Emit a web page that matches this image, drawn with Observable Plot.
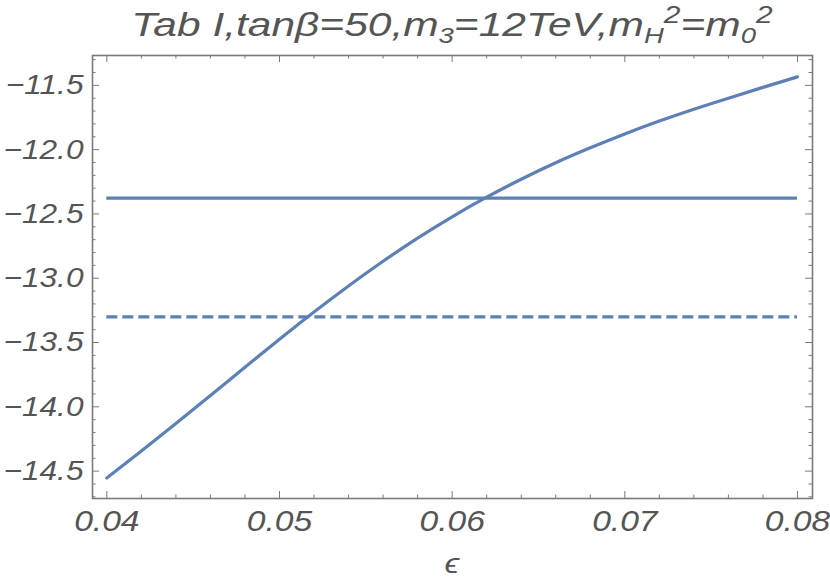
<!DOCTYPE html>
<html><head><meta charset="utf-8">
<script src="https://cdn.jsdelivr.net/npm/d3@7"></script>
<script src="https://cdn.jsdelivr.net/npm/@observablehq/plot@0.6"></script>
<style>body{margin:0;background:#fff}</style>
</head><body><div id="chart"></div>
<script>
// Data
const eps    = [0.040, 0.042, 0.044, 0.046, 0.048, 0.050, 0.052, 0.054, 0.056, 0.058, 0.060, 0.062, 0.064, 0.066, 0.068, 0.070, 0.072, 0.074, 0.076, 0.078, 0.080];
const curveY = [-14.554, -14.344, -14.130, -13.912, -13.692, -13.474, -13.262, -13.060, -12.868, -12.688, -12.522, -12.370, -12.230, -12.102, -11.986, -11.878, -11.778, -11.686, -11.600, -11.516, -11.434];
const solidLevel  = [-12.377];
const dashedLevel = [-13.300];
const epsRange = [0.04, 0.08];

const xMajor = [0.04, 0.05, 0.06, 0.07, 0.08];
const xMinor = [0.042, 0.044, 0.046, 0.048, 0.052, 0.054, 0.056, 0.058, 0.062, 0.064, 0.066, 0.068, 0.072, 0.074, 0.076, 0.078];
const yMajor = [-14.5, -14.0, -13.5, -13.0, -12.5, -12.0, -11.5];
const yMinor = [-14.7, -14.6, -14.4, -14.3, -14.2, -14.1, -13.9, -13.8, -13.7, -13.6, -13.4, -13.3, -13.2, -13.1, -12.9, -12.8, -12.7, -12.6, -12.4, -12.3, -12.2, -12.1, -11.9, -11.8, -11.7, -11.6, -11.4, -11.3];

const titleParts = [["Tab I,tanβ=50,m", "n"], ["3", "sub"], ["=12TeV,m", "n"], ["H", "sub"], ["2", "sup"], ["=m", "n"], ["0", "sub"], ["2", "sup"]];
const xLabel = "ϵ";

const curveData = eps.map((e, i) => ({eps: e, v: curveY[i]}));

const W = 830, H = 581, mL = 92, mR = 18, mT = 55, mB = 83;
const fw = W - mL - mR, fh = H - mT - mB;
const blue = "#5E81B5", gray = "#7a7a7a", textGray = "#555";
const font = "'Liberation Sans', Arial, sans-serif";
const majorLen = 7, minorLen = 3.5;

const chart = Plot.plot({
  width: W, height: H,
  marginLeft: mL, marginRight: mR, marginTop: mT, marginBottom: mB,
  style: {fontFamily: font, fontStyle: "italic", fontSize: "28px", color: textGray, background: "#fff"},
  x: {domain: [0.03917, 0.08087]},
  y: {domain: [-14.713, -11.268]},
  marks: [
    Plot.axisX(xMajor, {tickSize: 0, tickPadding: 11, tickFormat: d3.format(".2f"), label: null, fontSize: 30, fill: textGray}),
    Plot.axisY(yMajor, {tickSize: 0, tickPadding: 9, tickFormat: d3.format(".1f"), label: null, fontSize: 28, fill: textGray}),
    // inward frame ticks
    Plot.tickY(yMajor, {stroke: gray, strokeWidth: 1, insetRight: fw - majorLen}),
    Plot.tickY(yMajor, {stroke: gray, strokeWidth: 1, insetLeft: fw - majorLen}),
    Plot.tickY(yMinor, {stroke: gray, strokeWidth: 1, insetRight: fw - minorLen}),
    Plot.tickY(yMinor, {stroke: gray, strokeWidth: 1, insetLeft: fw - minorLen}),
    Plot.tickX(xMajor, {stroke: gray, strokeWidth: 1, insetTop: fh - majorLen}),
    Plot.tickX(xMajor, {stroke: gray, strokeWidth: 1, insetBottom: fh - majorLen}),
    Plot.tickX(xMinor, {stroke: gray, strokeWidth: 1, insetTop: fh - minorLen}),
    Plot.tickX(xMinor, {stroke: gray, strokeWidth: 1, insetBottom: fh - minorLen}),
    Plot.frame({stroke: gray, strokeWidth: 1.6}),
    Plot.ruleY(solidLevel, {x1: epsRange[0], x2: epsRange[1], stroke: blue, strokeWidth: 3.2}),
    Plot.ruleY(dashedLevel, {x1: epsRange[0], x2: epsRange[1], stroke: blue, strokeWidth: 3.2, strokeDasharray: "11,5"}),
    Plot.line(curveData, {x: "eps", y: "v", stroke: blue, strokeWidth: 3.2, curve: "monotone-x"})
  ]
});

document.getElementById("chart").append(chart);
const svg = d3.select(chart);

// widen the glyphs like the reference's wide rendering
function stretch(sel, k) {
  sel.each(function () {
    const w = this.getComputedTextLength();
    this.setAttribute("textLength", w * k);
    this.setAttribute("lengthAdjust", "spacingAndGlyphs");
  });
}
stretch(svg.selectAll('g[aria-label="y-axis tick label"] text'), 1.13);
stretch(svg.selectAll('g[aria-label="x-axis tick label"] text'), 1.12);

// Title with sub/superscripts
const tg = svg.append("g").attr("transform", `translate(${mL + fw / 2},36) scale(1.25,1)`);
const title = tg.append("text")
  .attr("x", 0).attr("y", 0)
  .attr("text-anchor", "middle")
  .attr("fill", textGray)
  .style("font-family", font)
  .style("font-style", "italic");
const offs = {n: 0, sub: 7, sup: -13};
const sizes = {n: 34, sub: 22, sup: 24};
let prev = 0;
for (const [t, k] of titleParts) {
  title.append("tspan").attr("dy", offs[k] - prev).attr("font-size", sizes[k]).text(t);
  prev = offs[k];
}
// x axis label
svg.append("g").attr("transform", `translate(${mL + fw / 2},573) scale(1.2,1)`)
  .append("text")
  .attr("x", 0).attr("y", 0)
  .attr("text-anchor", "middle")
  .attr("fill", textGray)
  .attr("font-size", 28)
  .style("font-family", font)
  .style("font-style", "italic")
  .text(xLabel);
</script>
</body></html>
